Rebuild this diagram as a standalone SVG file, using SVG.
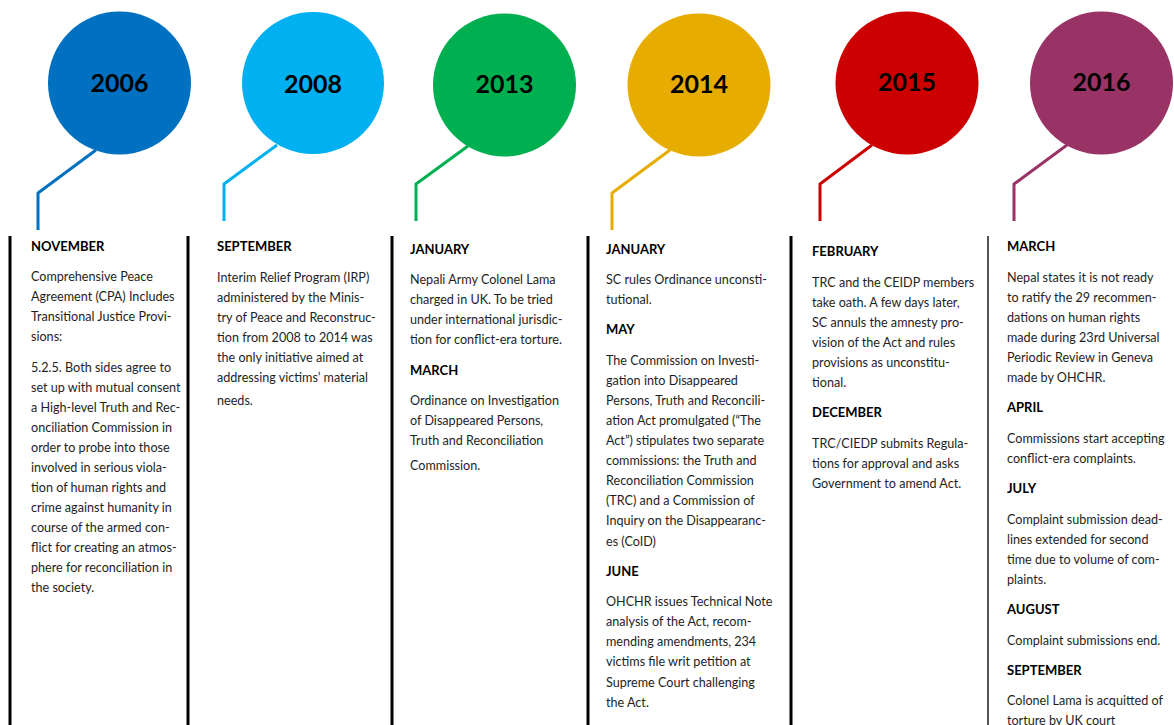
<svg xmlns="http://www.w3.org/2000/svg" width="1174" height="725" viewBox="0 0 1174 725">
  <style>
    .year { font-family: Lato, "Liberation Sans", sans-serif; font-weight: 700; font-size: 25px; fill: #000; text-anchor: middle; }
    .month { font-family: Lato, "Liberation Sans", sans-serif; font-weight: 700; font-size: 13px; fill: #000; }
    .body { font-family: Lato, "Liberation Sans", sans-serif; font-size: 12.6px; fill: #1e1e1e; }
    .link { fill: none; stroke-width: 3; stroke-linejoin: miter; }
    .rule { stroke: #000; stroke-width: 3; }
  </style>
  <rect width="1174" height="725" fill="#fff"/>

  <!-- column rules -->
  <g id="rules">
    <line class="rule" x1="10" y1="236" x2="10" y2="725"/>
    <line class="rule" x1="188" y1="236" x2="188" y2="725"/>
    <line class="rule" x1="392" y1="236" x2="392" y2="725"/>
    <line class="rule" x1="588" y1="236" x2="588" y2="725"/>
    <line class="rule" x1="791" y1="236" x2="791" y2="725"/>
    <line class="rule" x1="988" y1="236" x2="988" y2="725" style="stroke:#555;stroke-width:2"/>
  </g>

  <!-- connectors from year bubbles down to the columns -->
  <g id="connectors">
    <polyline class="link" stroke="#0070C0" points="96,150 38,193 38,230"/>
    <polyline class="link" stroke="#00B0F0" points="277,145 224,184 224,221"/>
    <polyline class="link" stroke="#00B050" points="468,146 416,184 416,221"/>
    <polyline class="link" stroke="#E6AD00" points="670,150 612,193 612,230"/>
    <polyline class="link" stroke="#CC0000" points="872,145 820,184 820,221"/>
    <polyline class="link" stroke="#993366" points="1067,145 1014,184 1014,221"/>
  </g>

  <g id="y2006">
    <circle cx="119.5" cy="83" r="71.5" fill="#0070C0"/>
    <text class="year" x="119.5" y="92">2006</text>
  </g>
  <g id="y2008">
    <circle cx="313" cy="83" r="71" fill="#00B0F0"/>
    <text class="year" x="313" y="93">2008</text>
  </g>
  <g id="y2013">
    <circle cx="504.5" cy="85" r="71.5" fill="#00B050"/>
    <text class="year" x="504.5" y="93">2013</text>
  </g>
  <g id="y2014">
    <circle cx="699" cy="85" r="71.5" fill="#E6AD00"/>
    <text class="year" x="699" y="93">2014</text>
  </g>
  <g id="y2015">
    <circle cx="907" cy="83" r="71.5" fill="#CC0000"/>
    <text class="year" x="907" y="91">2015</text>
  </g>
  <g id="y2016">
    <circle cx="1101.5" cy="83" r="71.5" fill="#993366"/>
    <text class="year" x="1101.5" y="91">2016</text>
  </g>

  <g id="col2006">
    <text class="month" x="31" y="251">NOVEMBER</text>
    <text class="body">
      <tspan x="31" y="281">Comprehensive Peace</tspan>
      <tspan x="31" y="301">Agreement (CPA) Includes</tspan>
      <tspan x="31" y="321">Transitional Justice Provi-</tspan>
      <tspan x="31" y="341">sions:</tspan>
      <tspan x="31" y="372">5.2.5. Both sides agree to</tspan>
      <tspan x="31" y="392">set up with mutual consent</tspan>
      <tspan x="31" y="412">a High-level Truth and Rec-</tspan>
      <tspan x="31" y="432">onciliation Commission in</tspan>
      <tspan x="31" y="452">order to probe into those</tspan>
      <tspan x="31" y="472">involved in serious viola-</tspan>
      <tspan x="31" y="492">tion of human rights and</tspan>
      <tspan x="31" y="512">crime against humanity in</tspan>
      <tspan x="31" y="532">course of the armed con-</tspan>
      <tspan x="31" y="552">flict for creating an atmos-</tspan>
      <tspan x="31" y="572">phere for reconciliation in</tspan>
      <tspan x="31" y="592">the society.</tspan>
    </text>
  </g>

  <g id="col2008">
    <text class="month" x="217" y="251">SEPTEMBER</text>
    <text class="body">
      <tspan x="217" y="282">Interim Relief Program (IRP)</tspan>
      <tspan x="217" y="302">administered by the Minis-</tspan>
      <tspan x="217" y="322">try of Peace and Reconstruc-</tspan>
      <tspan x="217" y="342">tion from 2008 to 2014 was</tspan>
      <tspan x="217" y="362">the only initiative aimed at</tspan>
      <tspan x="217" y="382">addressing victims’ material</tspan>
      <tspan x="217" y="405">needs.</tspan>
    </text>
  </g>

  <g id="col2013">
    <text class="month" x="410" y="254">JANUARY</text>
    <text class="body">
      <tspan x="410" y="284">Nepali Army Colonel Lama</tspan>
      <tspan x="410" y="304">charged in UK. To be tried</tspan>
      <tspan x="410" y="324">under international jurisdic-</tspan>
      <tspan x="410" y="344">tion for conflict-era torture.</tspan>
    </text>
    <text class="month" x="410" y="375">MARCH</text>
    <text class="body">
      <tspan x="410" y="405">Ordinance on Investigation</tspan>
      <tspan x="410" y="425">of Disappeared Persons,</tspan>
      <tspan x="410" y="445">Truth and Reconciliation</tspan>
      <tspan x="410" y="470">Commission.</tspan>
    </text>
  </g>

  <g id="col2014">
    <text class="month" x="606" y="254">JANUARY</text>
    <text class="body">
      <tspan x="606" y="284">SC rules Ordinance unconsti-</tspan>
      <tspan x="606" y="304">tutional.</tspan>
    </text>
    <text class="month" x="606" y="334">MAY</text>
    <text class="body">
      <tspan x="606" y="365">The Commission on Investi-</tspan>
      <tspan x="606" y="385">gation into Disappeared</tspan>
      <tspan x="606" y="405">Persons, Truth and Reconcili-</tspan>
      <tspan x="606" y="425">ation Act promulgated (“The</tspan>
      <tspan x="606" y="445">Act”) stipulates two separate</tspan>
      <tspan x="606" y="465">commissions: the Truth and</tspan>
      <tspan x="606" y="485">Reconciliation Commission</tspan>
      <tspan x="606" y="505">(TRC) and a Commission of</tspan>
      <tspan x="606" y="525">Inquiry on the Disappearanc-</tspan>
      <tspan x="606" y="546">es (CoID)</tspan>
    </text>
    <text class="month" x="606" y="576">JUNE</text>
    <text class="body">
      <tspan x="606" y="606">OHCHR issues Technical Note</tspan>
      <tspan x="606" y="626">analysis of the Act, recom-</tspan>
      <tspan x="606" y="646">mending amendments, 234</tspan>
      <tspan x="606" y="666">victims file writ petition at</tspan>
      <tspan x="606" y="687">Supreme Court challenging</tspan>
      <tspan x="606" y="707">the Act.</tspan>
    </text>
  </g>

  <g id="col2015">
    <text class="month" x="812" y="256">FEBRUARY</text>
    <text class="body">
      <tspan x="812" y="287">TRC and the CEIDP members</tspan>
      <tspan x="812" y="307">take oath. A few days later,</tspan>
      <tspan x="812" y="327">SC annuls the amnesty pro-</tspan>
      <tspan x="812" y="347">vision of the Act and rules</tspan>
      <tspan x="812" y="367">provisions as unconstitu-</tspan>
      <tspan x="812" y="387">tional.</tspan>
    </text>
    <text class="month" x="812" y="417">DECEMBER</text>
    <text class="body">
      <tspan x="812" y="448">TRC/CIEDP submits Regula-</tspan>
      <tspan x="812" y="468">tions for approval and asks</tspan>
      <tspan x="812" y="488">Government to amend Act.</tspan>
    </text>
  </g>

  <g id="col2016">
    <text class="month" x="1007" y="251">MARCH</text>
    <text class="body">
      <tspan x="1007" y="282">Nepal states it is not ready</tspan>
      <tspan x="1007" y="302">to ratify the 29 recommen-</tspan>
      <tspan x="1007" y="322">dations on human rights</tspan>
      <tspan x="1007" y="342">made during 23rd Universal</tspan>
      <tspan x="1007" y="362">Periodic Review in Geneva</tspan>
      <tspan x="1007" y="382">made by OHCHR.</tspan>
    </text>
    <text class="month" x="1007" y="412">APRIL</text>
    <text class="body">
      <tspan x="1007" y="443">Commissions start accepting</tspan>
      <tspan x="1007" y="463">conflict-era complaints.</tspan>
    </text>
    <text class="month" x="1007" y="493">JULY</text>
    <text class="body">
      <tspan x="1007" y="524">Complaint submission dead-</tspan>
      <tspan x="1007" y="544">lines extended for second</tspan>
      <tspan x="1007" y="564">time due to volume of com-</tspan>
      <tspan x="1007" y="584">plaints.</tspan>
    </text>
    <text class="month" x="1007" y="614">AUGUST</text>
    <text class="body">
      <tspan x="1007" y="645">Complaint submissions end.</tspan>
    </text>
    <text class="month" x="1007" y="675">SEPTEMBER</text>
    <text class="body">
      <tspan x="1007" y="705">Colonel Lama is acquitted of</tspan>
      <tspan x="1007" y="725">torture by UK court</tspan>
    </text>
  </g>
</svg>
